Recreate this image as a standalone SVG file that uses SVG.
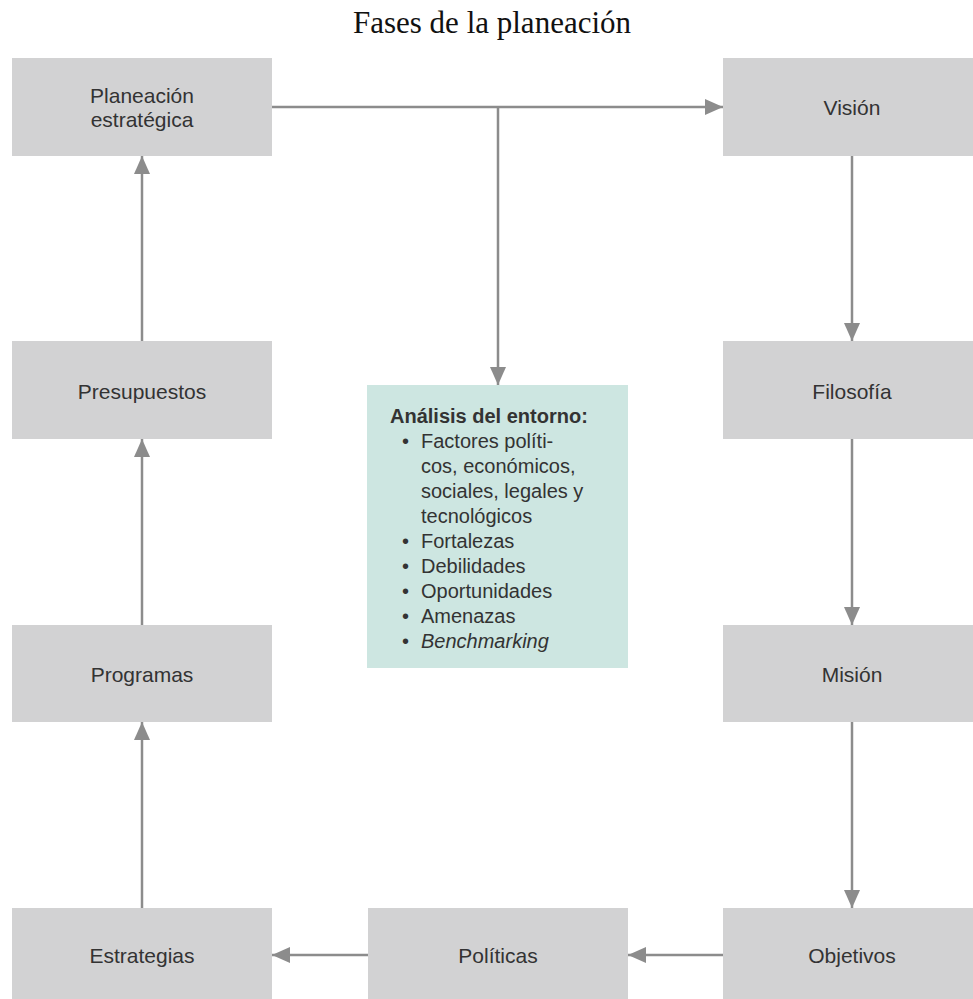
<svg xmlns="http://www.w3.org/2000/svg" width="973" height="999" viewBox="0 0 973 999">
<style>
.box{fill:#d2d2d3}
.green{fill:#cde6e1}
.t{font-family:"Liberation Sans",Arial,sans-serif;font-size:21px;fill:#333;text-anchor:middle}
.g{font-family:"Liberation Sans",Arial,sans-serif;font-size:20px;fill:#333}
.c{stroke:#8c8c8c;stroke-width:2.5;fill:none}
.title{font-family:"Liberation Serif","Times New Roman",serif;font-size:31px;fill:#111;text-anchor:middle}
</style>
<defs>
<marker id="ah" markerUnits="userSpaceOnUse" markerWidth="20" markerHeight="16" refX="18" refY="8" orient="auto">
<path d="M0,0 L18,8 L0,16 Z" fill="#8c8c8c"/>
</marker>
</defs>
<rect width="973" height="999" fill="#fff"/>
<text class="title" x="492" y="33">Fases de la planeación</text>
<g id="connectors">
<line class="c" x1="272" y1="107" x2="723" y2="107" marker-end="url(#ah)"/>
<line class="c" x1="498" y1="107" x2="498" y2="385" marker-end="url(#ah)"/>
<line class="c" x1="852" y1="156" x2="852" y2="341" marker-end="url(#ah)"/>
<line class="c" x1="852" y1="439" x2="852" y2="625" marker-end="url(#ah)"/>
<line class="c" x1="852" y1="722" x2="852" y2="908" marker-end="url(#ah)"/>
<line class="c" x1="723" y1="955" x2="628" y2="955" marker-end="url(#ah)"/>
<line class="c" x1="368" y1="955" x2="272" y2="955" marker-end="url(#ah)"/>
<line class="c" x1="142" y1="908" x2="142" y2="722" marker-end="url(#ah)"/>
<line class="c" x1="142" y1="625" x2="142" y2="439" marker-end="url(#ah)"/>
<line class="c" x1="142" y1="341" x2="142" y2="156" marker-end="url(#ah)"/>
</g>
<g id="planeacion"><rect class="box" x="12" y="58" width="260" height="98"/>
<text class="t" x="142" y="103">Planeación</text><text class="t" x="142" y="127">estratégica</text></g>
<g id="vision"><rect class="box" x="723" y="58" width="250" height="98"/>
<text class="t" x="852" y="115">Visión</text></g>
<g id="presupuestos"><rect class="box" x="12" y="341" width="260" height="98"/>
<text class="t" x="142" y="399">Presupuestos</text></g>
<g id="filosofia"><rect class="box" x="723" y="341" width="250" height="98"/>
<text class="t" x="852" y="399">Filosofía</text></g>
<g id="programas"><rect class="box" x="12" y="625" width="260" height="97"/>
<text class="t" x="142" y="682">Programas</text></g>
<g id="mision"><rect class="box" x="723" y="625" width="250" height="97"/>
<text class="t" x="852" y="682">Misión</text></g>
<g id="estrategias"><rect class="box" x="12" y="908" width="260" height="91"/>
<text class="t" x="142" y="963">Estrategias</text></g>
<g id="politicas"><rect class="box" x="368" y="908" width="260" height="91"/>
<text class="t" x="498" y="963">Políticas</text></g>
<g id="objetivos"><rect class="box" x="723" y="908" width="250" height="91"/>
<text class="t" x="852" y="963">Objetivos</text></g>
<g id="analisis"><rect class="green" x="367" y="385" width="261" height="283"/>
<text class="g" x="390" y="423" font-weight="bold">Análisis del entorno:</text>
<text class="g" x="402" y="448">•</text><text class="g" x="421" y="448">Factores políti-</text>
<text class="g" x="421" y="473">cos, económicos,</text>
<text class="g" x="421" y="498">sociales, legales y</text>
<text class="g" x="421" y="523">tecnológicos</text>
<text class="g" x="402" y="548">•</text><text class="g" x="421" y="548">Fortalezas</text>
<text class="g" x="402" y="573">•</text><text class="g" x="421" y="573">Debilidades</text>
<text class="g" x="402" y="598">•</text><text class="g" x="421" y="598">Oportunidades</text>
<text class="g" x="402" y="623">•</text><text class="g" x="421" y="623">Amenazas</text>
<text class="g" x="402" y="648">•</text><text class="g" x="421" y="648" font-style="italic">Benchmarking</text>
</g>
</svg>
